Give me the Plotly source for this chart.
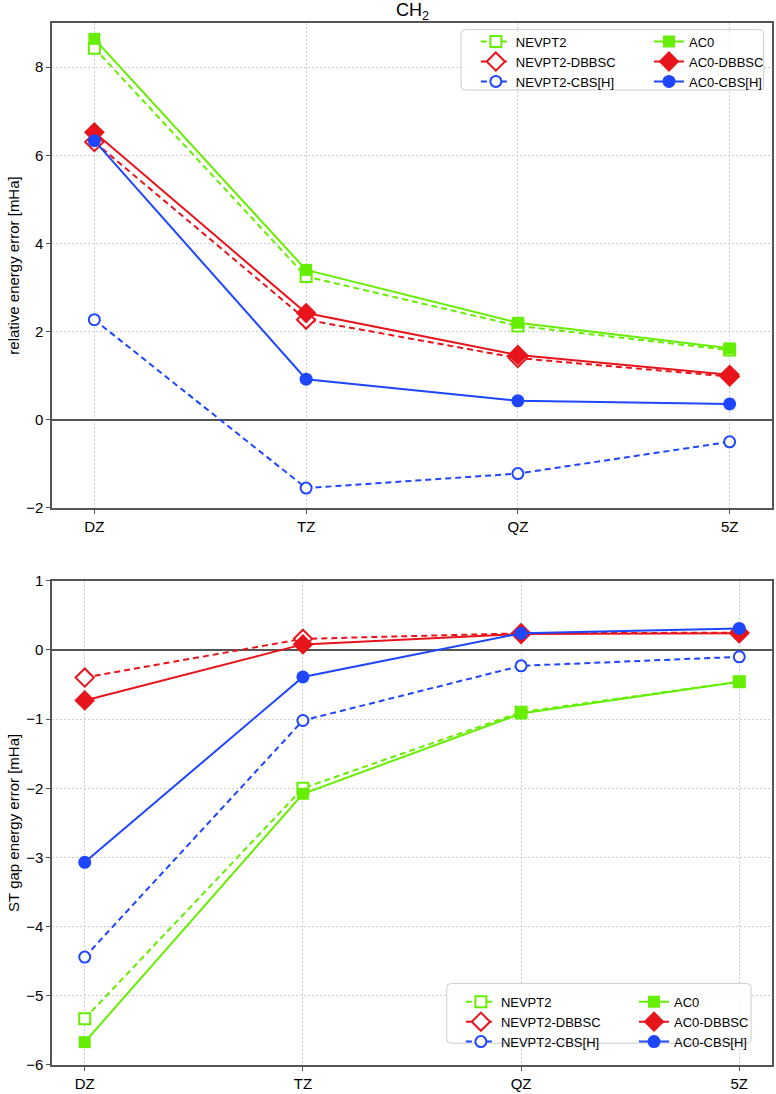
import plotly.graph_objects as go

# ---------------- data ----------------
basis = ["DZ", "TZ", "QZ", "5Z"]

# top panel: relative energy error [mHa]
nevpt2_rel = [8.43, 3.25, 2.13, 1.58]
nevpt2_dbbsc_rel = [6.30, 2.27, 1.40, 0.98]
nevpt2_cbs_rel = [2.27, -1.55, -1.22, -0.50]
ac0_rel = [8.64, 3.40, 2.20, 1.62]
ac0_dbbsc_rel = [6.52, 2.42, 1.47, 1.02]
ac0_cbs_rel = [6.33, 0.92, 0.43, 0.36]

# bottom panel: ST gap energy error [mHa]
nevpt2_st = [-5.33, -2.00, -0.90, -0.46]
nevpt2_dbbsc_st = [-0.40, 0.16, 0.24, 0.25]
nevpt2_cbs_st = [-4.44, -1.02, -0.23, -0.10]
ac0_st = [-5.67, -2.08, -0.92, -0.46]
ac0_dbbsc_st = [-0.73, 0.08, 0.23, 0.24]
ac0_cbs_st = [-3.07, -0.39, 0.24, 0.31]

top_ticks = [-2, 0, 2, 4, 6, 8]
bot_ticks = [-6, -5, -4, -3, -2, -1, 0, 1]

# ---------------- style ----------------
GREEN = "#66ee00"
RED = "#e8141c"
BLUE = "#1e46ff"
FONT = "Liberation Sans, Arial, Helvetica, sans-serif"
AXC = "#555555"

W, H = 776, 1094
L, R, T, B = 51.7, 2.7, 23.3, 21.3
PW, PH = W - L - R, H - T - B


def px2paper(px, py):
    return (px - L) / PW, 1 - (py - T) / PH


series = [
    ("NEVPT2", nevpt2_rel, nevpt2_st, GREEN, "square", True, 11),
    ("NEVPT2-DBBSC", nevpt2_dbbsc_rel, nevpt2_dbbsc_st, RED, "diamond", True, 14),
    ("NEVPT2-CBS[H]", nevpt2_cbs_rel, nevpt2_cbs_st, BLUE, "circle", True, 11),
    ("AC0", ac0_rel, ac0_st, GREEN, "square", False, 12),
    ("AC0-DBBSC", ac0_dbbsc_rel, ac0_dbbsc_st, RED, "diamond", False, 16),
    ("AC0-CBS[H]", ac0_cbs_rel, ac0_cbs_st, BLUE, "circle", False, 13),
]

fig = go.Figure()
for name, top, bot, col, sym, is_open, msize in series:
    for panel, ydata in (("top", top), ("bot", bot)):
        if panel == "top":
            xa, ya = "x", "y"
            leg = "legend" if is_open else "legend2"
        else:
            xa, ya = "x2", "y2"
            leg = "legend3" if is_open else "legend4"
        fig.add_trace(go.Scatter(
            x=basis, y=ydata, name=name, mode="lines+markers",
            xaxis=xa, yaxis=ya, legend=leg,
            line=dict(color=col, width=2, dash="6px,4px" if is_open else "solid"),
            marker=dict(symbol=sym, size=msize,
                        color="white" if is_open else col,
                        line=dict(color=col, width=2 if is_open else 0)),
        ))

top_dom = [(H - B - 511.7) / PH, 1.0]
bot_dom = [0.0, (H - B - 585.0) / PH]

axis_common = dict(
    showline=True, linecolor=AXC, linewidth=1.5, mirror=True,
    ticks="outside", ticklen=4, tickcolor=AXC, tickwidth=1,
    showgrid=True, gridcolor="#cfcfcf", gridwidth=1, griddash="2px,2px",
    tickfont=dict(family=FONT, size=15, color="black"),
)

fig.update_layout(
    width=W, height=H,
    margin=dict(l=L, r=R, t=T, b=B, pad=0),
    plot_bgcolor="white", paper_bgcolor="white",
    font=dict(family=FONT, color="black"),
    xaxis=dict(axis_common, domain=[0, 1], anchor="y", type="category",
               range=[-0.2, 3.2], zeroline=False),
    yaxis=dict(axis_common, domain=top_dom, anchor="x", range=[-2, 9],
               tickvals=top_ticks, zeroline=True, zerolinecolor=AXC, zerolinewidth=1.5,
               title=dict(text="relative energy error [mHa]",
                          font=dict(family=FONT, size=15), standoff=3)),
    xaxis2=dict(axis_common, domain=[0, 1], anchor="y2", type="category",
                range=[-0.15, 3.15], zeroline=False),
    yaxis2=dict(axis_common, domain=bot_dom, anchor="x2", range=[-6, 1],
                tickvals=bot_ticks, zeroline=True, zerolinecolor=AXC, zerolinewidth=1.5,
                title=dict(text="ST gap energy error [mHa]",
                           font=dict(family=FONT, size=15), standoff=3)),
)

leg_common = dict(bgcolor="rgba(0,0,0,0)", borderwidth=0, xanchor="left", yanchor="top",
                  font=dict(family=FONT, size=13), tracegroupgap=0, itemwidth=30)
lx1, ly1 = px2paper(476.5, 27.0)
lx2, _ = px2paper(650.0, 27.0)
bx1, by1 = px2paper(461.5, 994.0)
bx2, _ = px2paper(635.0, 994.0)
fig.update_layout(
    legend=dict(leg_common, x=lx1, y=ly1),
    legend2=dict(leg_common, x=lx2, y=ly1),
    legend3=dict(leg_common, x=bx1, y=by1),
    legend4=dict(leg_common, x=bx2, y=by1),
)


def rounded_box(x0, y0, x1, y1, r=4):
    ax0, ay0 = px2paper(x0, y0)
    ax1, ay1 = px2paper(x1, y1)
    rx, ry = r / PW, r / PH
    p = (f"M{ax0 + rx},{ay0} L{ax1 - rx},{ay0} Q{ax1},{ay0} {ax1},{ay0 - ry} "
         f"L{ax1},{ay1 + ry} Q{ax1},{ay1} {ax1 - rx},{ay1} "
         f"L{ax0 + rx},{ay1} Q{ax0},{ay1} {ax0},{ay1 + ry} "
         f"L{ax0},{ay0 - ry} Q{ax0},{ay0} {ax0 + rx},{ay0} Z")
    return dict(type="path", path=p, xref="paper", yref="paper", layer="above",
                fillcolor="rgba(255,255,255,0.8)", line=dict(color="#cccccc", width=1))


fig.update_layout(shapes=[
    rounded_box(461.7, 30.0, 765.0, 90.7),
    rounded_box(447.3, 990.7, 752.3, 1050.7),
])

fig.add_annotation(text="CH<sub>2</sub>", xref="paper", yref="paper",
                   x=0.5, y=1.0, yshift=12, xanchor="center", yanchor="middle",
                   showarrow=False, font=dict(family=FONT, size=18, color="black"))

fig.write_html("out.html")
